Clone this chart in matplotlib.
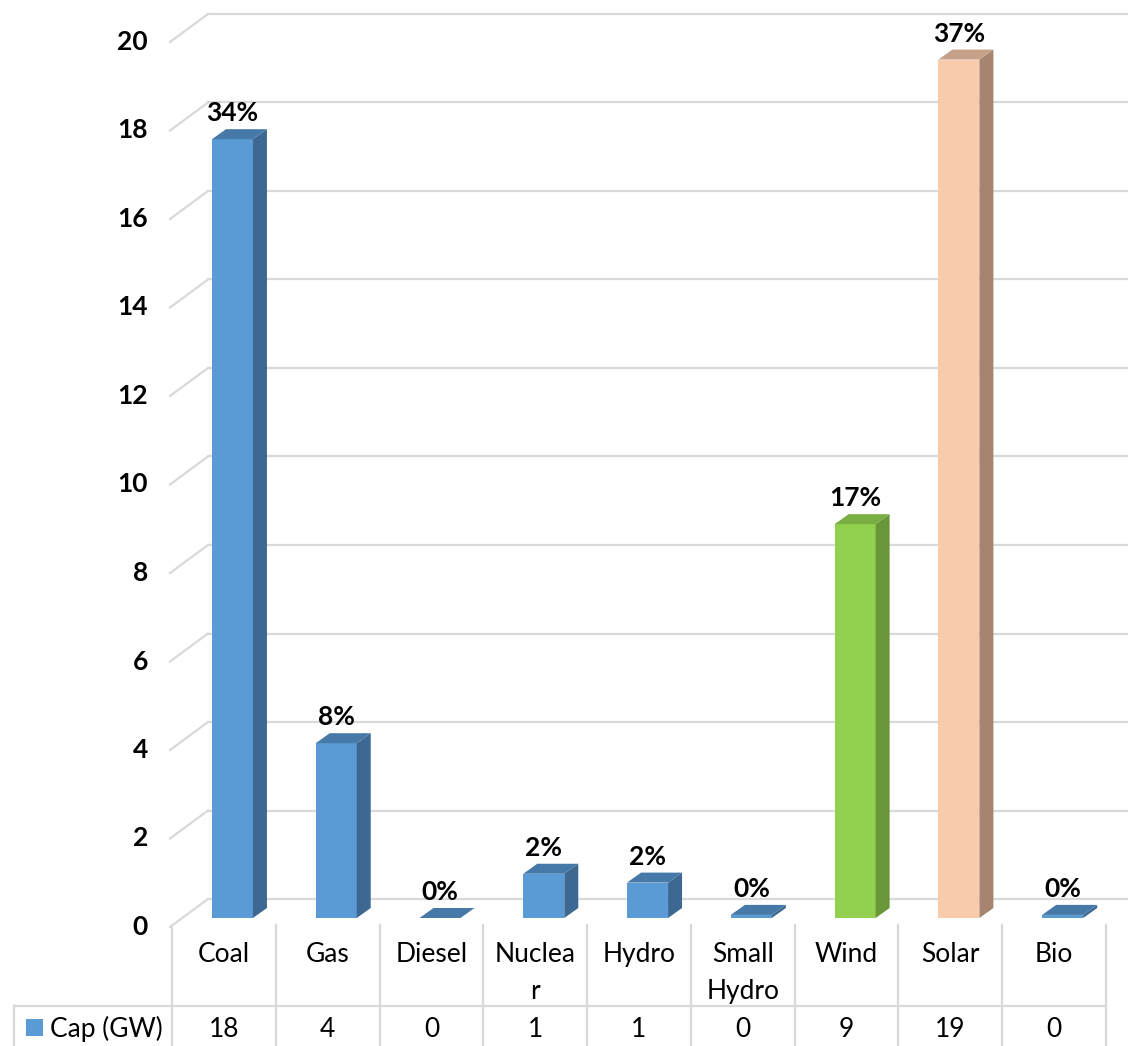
import matplotlib
matplotlib.use('Agg')
import matplotlib.pyplot as plt
from matplotlib.patches import Polygon, Rectangle
from matplotlib.lines import Line2D
from matplotlib.transforms import blended_transform_factory

plt.rcParams['font.family'] = ['Lato', 'DejaVu Sans']

# capacity by technology (GW)
categories = ['Coal', 'Gas', 'Diesel', 'Nuclear', 'Hydro', 'Small Hydro', 'Wind', 'Solar', 'Bio']
cat_labels = ['Coal', 'Gas', 'Diesel', 'Nuclea\nr', 'Hydro', 'Small\nHydro', 'Wind', 'Solar', 'Bio']
capacity_gw = [17.6, 3.95, 0.0, 1.0, 0.8, 0.07, 8.9, 19.4, 0.07]
y_ticks = [0, 2, 4, 6, 8, 10, 12, 14, 16, 18, 20]
series_name = 'Cap (GW)'

# face colours: front, side, top
BLUE = ('#5B9BD5', '#3C6891', '#4678A8')
GREEN = ('#92D050', '#6A963A', '#79AE42')
PEACH = ('#F8CBAD', '#A6846D', '#C6A18A')
bar_colors = [BLUE, BLUE, BLUE, BLUE, BLUE, BLUE, GREEN, PEACH, BLUE]
GRID = '#D9D9D9'
FS = 19

W, H = 1128, 1046
fig = plt.figure(figsize=(W / 100, H / 100), dpi=100)
fig.patch.set_facecolor('white')

# axes = bar front plane
ax = fig.add_axes([172 / W, 128 / H, 934 / W, 885 / H])
ax.set_xlim(-0.5, 8.5)
ax.set_ylim(0, 20)
ax.axis('off')

px_x = 934 / 9.0     # pixels per category
px_y = 885 / 20.0    # pixels per GW


def dx(p):
    return p / px_x


def dy(p):
    return p / px_y


def fx(p):
    return p / W


def fy(p):
    return 1 - p / H


X_LEFT = -0.5 + dx(10)
back = (dx(26), dy(19))
front = (dx(-12), dy(-9))
depth = (dx(14), dy(10))

# back wall gridlines + left wall diagonals
for v in y_ticks:
    ax.plot([X_LEFT + back[0], 9.0], [v + back[1]] * 2, color=GRID,
            lw=1.6, clip_on=False, zorder=1)
    ax.plot([X_LEFT + front[0], X_LEFT + back[0]], [v + front[1], v + back[1]],
            color=GRID, lw=1.6, clip_on=False, zorder=1)
    ax.annotate(str(v), (X_LEFT + front[0], v + front[1]), xytext=(-22, 0),
                textcoords='offset pixels', ha='right', va='center',
                fontsize=FS, fontweight='bold', annotation_clip=False)

total = sum(capacity_gw)
bw = 0.395
for i, (v, cols) in enumerate(zip(capacity_gw, bar_colors)):
    x0 = i - 0.115
    x1 = x0 + bw
    ax.add_patch(Rectangle((x0, 0), bw, v, facecolor=cols[0], edgecolor='none',
                           zorder=3, clip_on=False))
    ax.add_patch(Polygon([(x1, 0), (x1, v), (x1 + depth[0], v + depth[1]),
                          (x1 + depth[0], depth[1])],
                         facecolor=cols[1], edgecolor='none', zorder=3, clip_on=False))
    ax.add_patch(Polygon([(x0, v), (x1, v), (x1 + depth[0], v + depth[1]),
                          (x0 + depth[0], v + depth[1])],
                         facecolor=cols[2], edgecolor='none', zorder=4, clip_on=False))
    pct = round(v / total * 100)
    ax.annotate(f'{pct}%', (x0 + bw / 2, v + depth[1]), xytext=(0, 8),
                textcoords='offset pixels', ha='center', va='baseline',
                fontsize=FS, fontweight='bold', annotation_clip=False, zorder=5)

# data table under the chart
tr = blended_transform_factory(ax.transData, fig.transFigure)
for k in range(len(categories) + 1):
    ax.plot([k - 0.5, k - 0.5], [fy(925), fy(1046)], transform=tr, color=GRID,
            lw=1.6, clip_on=False)
fig.add_artist(Line2D([fx(14), fx(1106)], [fy(1006)] * 2, color=GRID, lw=1.6))
fig.add_artist(Line2D([fx(14), fx(14)], [fy(1006), fy(1046)], color=GRID, lw=1.6))

for i, (lab, v) in enumerate(zip(cat_labels, capacity_gw)):
    for j, line in enumerate(lab.split('\n')):
        ax.text(i, fy(962 + 37 * j), line, transform=tr, ha='center',
                va='baseline', fontsize=FS, clip_on=False)
    ax.text(i, fy(1037), f'{v:.0f}', transform=tr, ha='center', va='baseline',
            fontsize=FS, clip_on=False)

fig.add_artist(Rectangle((fx(26), fy(1036)), fx(17), 17 / H, facecolor=BLUE[0],
                         edgecolor='none', transform=fig.transFigure))
fig.text(fx(50), fy(1037), series_name, ha='left', va='baseline', fontsize=FS)

fig.savefig('out.png', dpi=100, facecolor='white')
